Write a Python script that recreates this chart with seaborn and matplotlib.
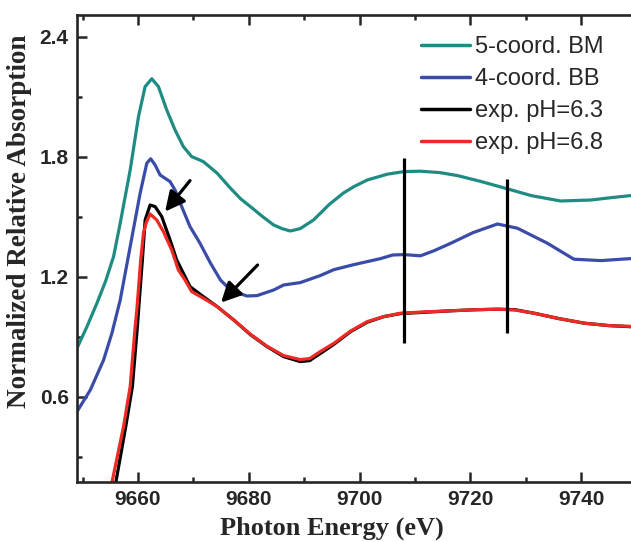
import matplotlib
matplotlib.use("Agg")
import matplotlib.pyplot as plt
from matplotlib.ticker import MultipleLocator
import numpy as np
import pandas as pd
import seaborn as sns

# ---------------- data ----------------
bm_x = [9649.0, 9650.8, 9652.6, 9654.2, 9655.6, 9656.8, 9658.6, 9660.1, 9661.3, 9662.5,
        9663.7, 9665.2, 9666.7, 9668.2, 9669.7, 9671.8, 9674.3, 9676.7, 9678.5, 9680.3,
        9682.5, 9684.5, 9686.0, 9687.5, 9689.3, 9691.7, 9694.5, 9697.1, 9699.0, 9701.4,
        9705.0, 9708.0, 9711.0, 9714.5, 9717.7, 9722.0, 9726.8, 9731.0, 9736.3, 9741.8,
        9745.5, 9750.0]
bm_y = [0.842, 0.95, 1.067, 1.18, 1.30, 1.467, 1.733, 2.0, 2.15, 2.189,
        2.15, 2.033, 1.933, 1.85, 1.80, 1.775, 1.717, 1.642, 1.59, 1.55,
        1.50, 1.458, 1.44, 1.428, 1.440, 1.483, 1.56, 1.618, 1.65, 1.683,
        1.712, 1.725, 1.727, 1.72, 1.705, 1.675, 1.638, 1.605, 1.578, 1.583,
        1.595, 1.608]

bb_x = [9649.0, 9651.4, 9653.8, 9655.3, 9656.8, 9658.6, 9660.4, 9661.6, 9662.3, 9663.1,
        9664.0, 9665.8, 9666.7, 9667.9, 9669.4, 9671.2, 9673.1, 9674.9, 9676.1, 9677.3,
        9679.7, 9681.5, 9684.5, 9686.3, 9689.3, 9692.9, 9695.4, 9699.0, 9703.8, 9706.0,
        9708.0, 9711.0, 9713.5, 9716.5, 9720.5, 9724.9, 9728.5, 9733.9, 9738.7, 9743.6,
        9750.0]
bb_y = [0.525, 0.633, 0.783, 0.917, 1.083, 1.35, 1.617, 1.767, 1.789, 1.758,
        1.708, 1.675, 1.633, 1.55, 1.45, 1.367, 1.267, 1.183, 1.15, 1.125,
        1.103, 1.105, 1.133, 1.158, 1.17, 1.205, 1.235, 1.26, 1.29, 1.308,
        1.31, 1.304, 1.33, 1.367, 1.42, 1.463, 1.442, 1.367, 1.287, 1.28,
        1.292]

ph63_x = [9656.0, 9657.8, 9659.0, 9659.9, 9660.3, 9660.8, 9661.3, 9662.2, 9663.1, 9664.3,
          9665.8, 9667.0, 9668.2, 9669.4, 9671.8, 9674.3, 9677.3, 9680.3, 9683.3, 9686.3,
          9689.3, 9691.0, 9692.9, 9695.4, 9698.4, 9701.4, 9704.4, 9707.4, 9712.0, 9716.5,
          9720.5, 9724.9, 9728.0, 9731.5, 9736.0, 9740.6, 9745.0, 9750.0]
ph63_y = [0.17, 0.45, 0.65, 0.95, 1.10, 1.283, 1.483, 1.558, 1.55, 1.50,
          1.383, 1.283, 1.217, 1.15, 1.10, 1.05, 0.983, 0.91, 0.85, 0.80,
          0.775, 0.78, 0.815, 0.862, 0.925, 0.972, 1.0, 1.015, 1.022, 1.029,
          1.034, 1.037, 1.035, 1.017, 0.99, 0.967, 0.955, 0.948]

ph68_x = [9655.3, 9657.4, 9658.6, 9659.5, 9659.8, 9660.5, 9661.0, 9661.5, 9662.2, 9663.4,
          9664.6, 9666.1, 9667.3, 9668.5, 9669.7, 9671.8, 9674.3, 9677.3, 9680.3, 9683.3,
          9686.3, 9689.3, 9691.0, 9692.9, 9695.4, 9698.4, 9701.4, 9704.4, 9707.4, 9712.0,
          9716.5, 9720.5, 9724.9, 9728.0, 9731.5, 9736.0, 9740.6, 9745.0, 9750.0]
ph68_y = [0.17, 0.45, 0.65, 0.95, 1.033, 1.283, 1.417, 1.47, 1.513, 1.483,
          1.425, 1.333, 1.233, 1.183, 1.125, 1.092, 1.05, 0.983, 0.912, 0.852,
          0.805, 0.785, 0.79, 0.825, 0.867, 0.928, 0.975, 1.0, 1.017, 1.024,
          1.029, 1.034, 1.037, 1.033, 1.017, 0.99, 0.967, 0.955, 0.95]

series_names = ["5-coord. BM", "4-coord. BB", "exp. pH=6.3", "exp. pH=6.8"]
series_colors = ["#1f8c84", "#3a4ca8", "#000000", "#ee2a24"]

# marker lines at features
vline_x = [9708.0, 9726.7]
vline_lo = [0.867, 0.92]
vline_hi = [1.792, 1.687]

# arrows: (tail x, tail y, tip x, tip y)
arrow_tail_x = [9669.4, 9681.6]
arrow_tail_y = [1.68, 1.258]
arrow_tip_x = [9664.9, 9675.0]
arrow_tip_y = [1.525, 1.07]

xticks = [9660, 9680, 9700, 9720, 9740]
yticks = [0.6, 1.2, 1.8, 2.4]

# ---------------- build table ----------------
frames = []
for name, xs, ys in zip(series_names, [bm_x, bb_x, ph63_x, ph68_x], [bm_y, bb_y, ph63_y, ph68_y]):
    frames.append(pd.DataFrame({"energy": xs, "absorption": ys, "series": name}))
df = pd.concat(frames, ignore_index=True)

sns.set_style("ticks")
plt.rcParams["font.family"] = ["Liberation Sans", "DejaVu Sans"]

fig = plt.figure(figsize=(6.31, 5.42), dpi=100)
ax = fig.add_axes([77 / 631, 60 / 542, (636.5 - 77) / 631, 467 / 542])

sns.lineplot(data=df, x="energy", y="absorption", hue="series", hue_order=series_names,
             palette=dict(zip(series_names, series_colors)), estimator=None, sort=False,
             lw=2.3, ax=ax, legend=True)
for ln in ax.get_lines():
    ln.set_solid_joinstyle("round")
    ln.set_solid_capstyle("round")

ax.vlines(vline_x, vline_lo, vline_hi, colors="black", lw=2.3)

for tx, ty, hx, hy in zip(arrow_tail_x, arrow_tail_y, arrow_tip_x, arrow_tip_y):
    ax.annotate("", xy=(hx, hy), xytext=(tx, ty),
                arrowprops=dict(arrowstyle="-|>,head_length=0.6,head_width=0.3",
                                color="black", lw=2.3, shrinkA=0, shrinkB=0,
                                mutation_scale=20))

ax.set_xlim(9649, 9750)
ax.set_ylim(0.173, 2.508)
ax.set_xticks(xticks)
ax.set_yticks(yticks)
ax.xaxis.set_minor_locator(MultipleLocator(10))
ax.yaxis.set_minor_locator(MultipleLocator(0.3))
ax.tick_params(which="both", direction="in", top=True, width=1.8)
ax.tick_params(which="major", length=7, pad=6)
ax.tick_params(which="minor", length=3.5)
for lab in ax.get_xticklabels() + ax.get_yticklabels():
    lab.set_fontsize(15)
    lab.set_fontweight("bold")
    lab.set_family("Liberation Sans")
for sp in ax.spines.values():
    sp.set_linewidth(1.9)

ax.set_xlabel("Photon Energy (eV)", fontsize=19, fontweight="bold", family="Liberation Serif")
ax.set_ylabel("Normalized Relative Absorption", fontsize=19.5, fontweight="bold",
              family="Liberation Serif")
ax.xaxis.set_label_coords(0.455, -0.074)
ax.yaxis.set_label_coords(-0.08, 0.558)

handles, labels = ax.get_legend_handles_labels()
leg = ax.legend(handles, labels, loc="upper left", bbox_to_anchor=(0.614, 0.955),
                frameon=False, fontsize=17, handlelength=2.1, handletextpad=0.2,
                labelspacing=0.42, borderpad=0, borderaxespad=0)
for line in leg.get_lines():
    line.set_linewidth(2.5)

fig.savefig("out.png", dpi=100)
